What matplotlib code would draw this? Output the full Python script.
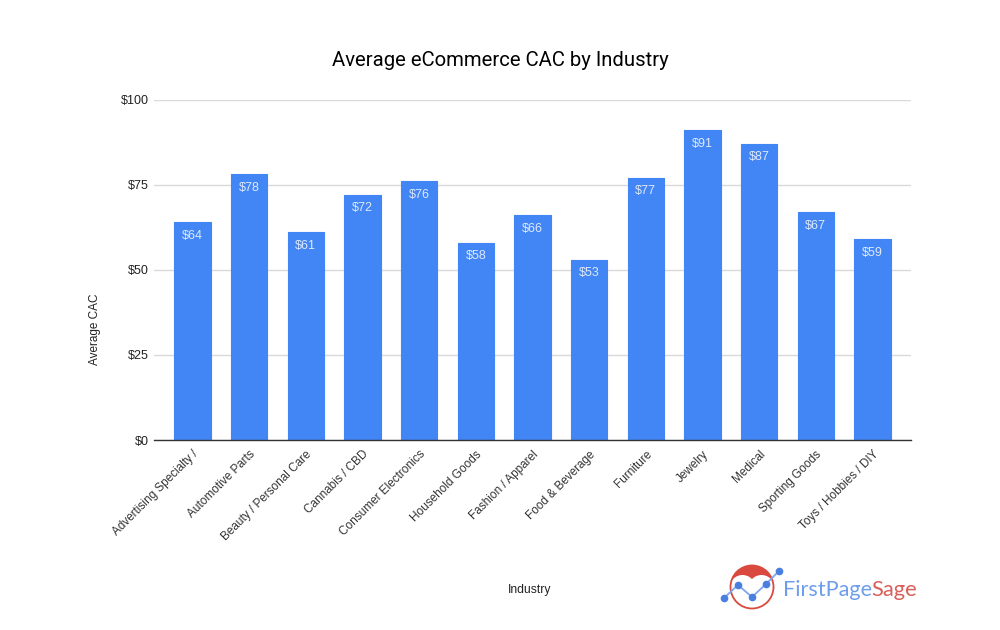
import matplotlib
matplotlib.use('Agg')
import matplotlib.pyplot as plt
from matplotlib.patches import Circle, Wedge

plt.rcParams['font.family'] = ['Liberation Sans', 'DejaVu Sans']

# Values
industries = ['Advertising Specialty /', 'Automotive Parts', 'Beauty / Personal Care',
              'Cannabis / CBD', 'Consumer Electronics', 'Household Goods',
              'Fashion / Apparel', 'Food & Beverage', 'Furniture', 'Jewelry',
              'Medical', 'Sporting Goods', 'Toys / Hobbies / DIY']
cac = [64, 78, 61, 72, 76, 58, 66, 53, 77, 91, 87, 67, 59]
y_ticks = [0, 25, 50, 75, 100]

BLUE = '#4285f4'

fig = plt.figure(figsize=(10, 6.3), dpi=100)
ax = fig.add_axes([154 / 1000, 1 - 440 / 630, (911 - 154) / 1000, (440 - 99.5) / 630])

x = range(len(industries))
bars = ax.bar(x, cac, width=0.64, color=BLUE, edgecolor=BLUE, linewidth=0.8,
              joinstyle='round', zorder=2)

# Value labels inside the top of each bar
for xi, v in zip(x, cac):
    ax.annotate(f'${v}', (xi, v), xytext=(0, -5.5), textcoords='offset points',
                ha='center', va='top', color='#dfe9fb', fontsize=9, zorder=3)

ax.set_xlim(-0.68, 12.68)
ax.set_ylim(0, 100)
ax.set_yticks(y_ticks)
ax.set_yticklabels([f'${t}' for t in y_ticks], fontsize=9, color='#222222')
ax.set_xticks(list(x))
ax.set_xticklabels(industries, rotation=45, ha='right', va='top', rotation_mode='anchor',
                   fontsize=8.5, color='#333333')
ax.tick_params(axis='both', length=0)
ax.tick_params(axis='x', pad=6)
ax.tick_params(axis='y', pad=4)
ax.grid(axis='y', color='#d9d9d9', linewidth=1, zorder=0)
ax.set_axisbelow(True)
for side in ['top', 'right', 'left']:
    ax.spines[side].set_visible(False)
ax.spines['bottom'].set_color('#333333')
ax.spines['bottom'].set_linewidth(1)
ax.spines['bottom'].set_zorder(4)

fig.text(0.5, 1 - 60 / 630, 'Average eCommerce CAC by Industry', ha='center', va='center',
         fontsize=14.6, color='#000000', family='Roboto')
fig.text(95 / 1000, 1 - 329 / 630, 'Average CAC', rotation=90, ha='center', va='center',
         fontsize=8.5, color='#222222')
fig.text(530 / 1000, 1 - 590 / 630, 'Industry', ha='center', va='center',
         fontsize=8.7, color='#222222')

# Logo, drawn in pixel coordinates on an overlay
logo = fig.add_axes([0, 0, 1, 1], facecolor='none')
logo.set_xlim(0, 1000)
logo.set_ylim(630, 0)
logo.axis('off')
logo.add_patch(Wedge((752, 587), 21.5, 180, 360, fc='#d9493e', ec='none'))
logo.add_patch(Circle((742.5, 588), 13, fc='white', ec='none'))
logo.add_patch(Circle((761.5, 588), 13, fc='white', ec='none'))
logo.add_patch(Circle((752, 587), 21.5, fill=False, ec='#d9493e', lw=1.3))
line_x = [724, 738, 752, 766, 779]
line_y = [598, 585, 597, 584, 571]
logo.plot(line_x, line_y, color='#7ea6ee', lw=1.3, marker='o', ms=4.5, mfc='#4a7fe0', mec='#4a7fe0')
logo.text(783, 590, 'FirstPage', color='#6d9eeb', fontsize=15.6, family='Lato',
          ha='left', va='center')
logo.text(871.5, 590, 'Sage', color='#d9605a', fontsize=15.8, family='Lato',
          ha='left', va='center')

fig.savefig('out.png', dpi=100, facecolor='white')
